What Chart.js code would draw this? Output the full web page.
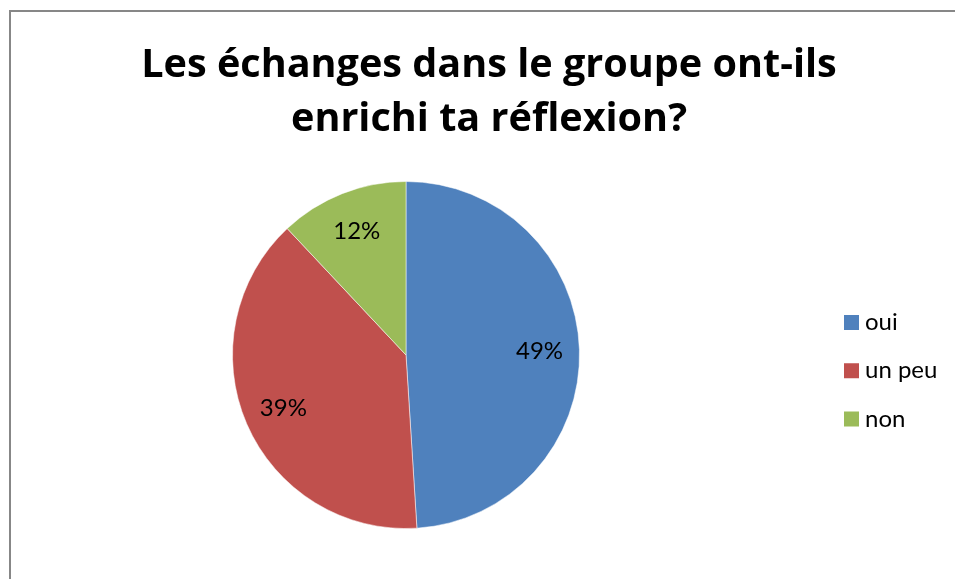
<!DOCTYPE html>
<html>
<head>
<meta charset="utf-8">
<script src="https://cdn.jsdelivr.net/npm/chart.js@4"></script>
<style>
  html, body { margin: 0; padding: 0; background: #fff; overflow: hidden; }
  #wrap { position: relative; width: 955px; height: 579px; overflow: hidden; }
  #chart { position: absolute; left: 0; top: 0; }
  #frame { position: absolute; left: 9px; top: 10px; width: 960px; height: 580px;
           border-left: 2px solid #878787; border-top: 2px solid #878787; pointer-events: none; }
</style>
</head>
<body>
<div id="wrap">
  <canvas id="chart" width="955" height="579"></canvas>
  <div id="frame"></div>
</div>
<script>
const titleLines = ['Les échanges dans le groupe ont-ils', 'enrichi ta réflexion?'];
const categories = ['oui', 'un peu', 'non'];
const shares = [49, 39, 12];
const sliceColors = ['#4F81BD', '#C0504D', '#9BBB59'];

// percentage labels inside each slice
const sliceLabels = {
  id: 'sliceLabels',
  afterDatasetsDraw(chart) {
    const ctx = chart.ctx;
    const meta = chart.getDatasetMeta(0);
    ctx.save();
    ctx.font = '24px Lato';
    ctx.fillStyle = '#000';
    ctx.textAlign = 'center';
    ctx.textBaseline = 'middle';
    meta.data.forEach((arc, i) => {
      const p = arc.getProps(['x', 'y', 'startAngle', 'endAngle', 'outerRadius'], true);
      const mid = (p.startAngle + p.endAngle) / 2;
      const r = p.outerRadius * 0.77;
      ctx.fillText(shares[i] + '%', p.x + Math.cos(mid) * r, p.y + Math.sin(mid) * r);
    });
    ctx.restore();
  }
};

// Excel-style title (centred on the whole frame) and legend to the right of the pie
const frameText = {
  id: 'frameText',
  afterDraw(chart) {
    const { ctx, chartArea } = chart;
    ctx.save();
    ctx.fillStyle = '#000';
    ctx.font = 'bold 39.6px "Open Sans"';
    ctx.textAlign = 'center';
    ctx.textBaseline = 'alphabetic';
    titleLines.forEach((line, i) => ctx.fillText(line, 489, 77 + i * 54));

    ctx.font = '24px Lato';
    ctx.textAlign = 'left';
    const x0 = chartArea.right + 32;
    categories.forEach((name, i) => {
      const y = 322.5 + i * 48.25;
      ctx.fillStyle = sliceColors[i];
      ctx.fillRect(x0, y - 7.5, 15, 15);
      ctx.fillStyle = '#000';
      ctx.fillText(name, x0 + 21, y + 7.5);
    });
    ctx.restore();
  }
};

const ctx = document.getElementById('chart').getContext('2d');
new Chart(ctx, {
  type: 'pie',
  data: {
    labels: categories,
    datasets: [{
      data: shares,
      backgroundColor: sliceColors,
      borderColor: 'rgba(255,255,255,0.5)',
      borderWidth: 1
    }]
  },
  options: {
    responsive: false,
    animation: false,
    layout: { padding: { left: 0, top: 181, right: 143, bottom: 50 } },
    plugins: {
      tooltip: { enabled: false },
      legend: { display: false },
      title: { display: false }
    }
  },
  plugins: [sliceLabels, frameText]
});
</script>
</body>
</html>
